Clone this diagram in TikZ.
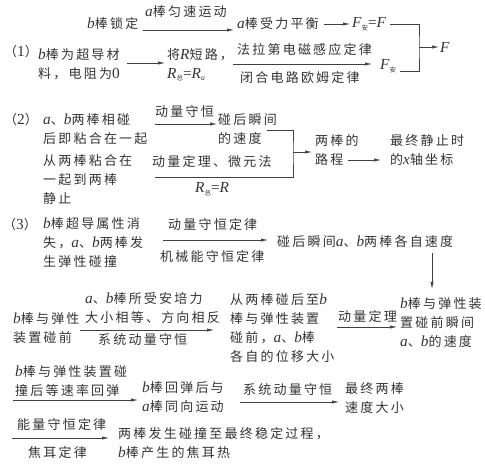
\documentclass[tikz,border=0pt]{standalone}
\usepackage{fontspec}
\newfontfamily\cjk[LetterSpace=17]{Noto Sans CJK SC}
\newfontfamily\cjksub{Noto Sans CJK SC}
\newfontfamily\ser[Scale=1.18]{Liberation Serif}
\usetikzlibrary{arrows.meta}
\newcommand\vi[1]{{\ser\itshape #1}}
\newcommand\dg[1]{{\ser #1}}
\newcommand\zh[1]{\raisebox{-2.5pt}{\cjksub\fontsize{6.5}{7}\selectfont #1}}
\tikzset{
  txt/.style={inner sep=0pt, anchor=west, align=left, font=\cjk\fontsize{13}{19}\selectfont, text=black!80},
  arr/.style={draw=black!75, line width=0.6pt, -{Latex[length=7pt,width=3.2pt]}},
  ln/.style={draw=black!75, line width=0.6pt},
}
\begin{document}
\begin{tikzpicture}[x=1pt,y=-1pt]
\useasboundingbox (0,0) rectangle (485,465);
% ---------- (1)
\node[txt] (b1) at (87,24) {\vi{b}棒锁定};
\node[txt] (l1) at (145,12) {\vi{a}棒匀速运动};
\node[txt] (a1) at (237,24) {\vi{a}棒受力平衡};
\node[txt] (f1) at (352,24) {\vi{F}\zh{安}\dg{=}\vi{F}};
\node[txt] (p1) at (4,52) {（\dg{1}）};
\node[txt] (s1) at (38,64) {\vi{b}棒为超导材\\料，电阻为\dg{0}};
\node[txt] (r1) at (167,65) {将\vi{R}短路，\\\vi{R}\zh{总}\dg{=}\vi{R}\zh{\ser\itshape a}};
\node[txt] (fl) at (237,50) {法拉第电磁感应定律};
\node[txt] (bh) at (240,78) {闭合电路欧姆定律};
\node[txt] (fa) at (380,66) {\vi{F}\zh{安}};
\node[txt] (F) at (440,47) {\vi{F}};
\coordinate (c1a) at (143,30); \coordinate (c1b) at (234,30);
\draw[arr] (c1a) -- (c1b);
\draw[arr] ([xshift=5pt]a1.east) -- ([xshift=-2pt]f1.west);
\coordinate (c2a) at (127,63); \coordinate (c2b) at (165,63);
\draw[arr] (c2a) -- (c2b);
\coordinate (c3a) at (233,64); \coordinate (c3b) at (372,64);
\draw[arr] (c3a) -- (c3b);
\coordinate (k1) at (419,47);
\draw[ln] ([xshift=4pt]f1.east) -| (k1) |- ([xshift=4pt,yshift=-5pt]fa.east);
\draw[arr] (k1) -- ([xshift=-1pt]F.west);
% ---------- (2)
\node[txt] (p2) at (4,120) {（\dg{2}）};
\node[txt] (s2) at (43,129) {\vi{a}、\vi{b}两棒相碰\\后即粘合在一起};
\node[txt] (l2) at (155,112) {动量守恒};
\node[txt] (v2) at (218,129) {碰后瞬间\\的速度};
\node[txt] (t2) at (43,180) {从两棒粘合在\\一起到两棒\\静止};
\node[txt] (m2) at (152,162) {动量定理、微元法};
\node[txt] (r2) at (195,189) {\vi{R}\zh{总}\dg{=}\vi{R}};
\node[txt] (d2) at (315,150) {两棒的\\路程};
\node[txt] (x2) at (390,150) {最终静止时\\的\vi{x}轴坐标};
\coordinate (c4a) at (155,124); \coordinate (c4b) at (217,124);
\draw[arr] (c4a) -- (c4b);
\coordinate (k2) at (293,152);
\coordinate (c5a) at (267,130); \coordinate (c5b) at (155,177);
\draw[ln] (c5a) -| (k2) |- (c5b);
\draw[arr] (k2) -- ([xshift=-3pt]k2 -| d2.west);
\coordinate (c6a) at (348,160); \coordinate (c6b) at (381,160);
\draw[arr] (c6a) -- (c6b);
% ---------- (3)
\node[txt] (p3) at (3,225) {（\dg{3}）};
\node[txt] (s3) at (43,243) {\vi{b}棒超导属性消\\失，\vi{a}、\vi{b}两棒发\\生弹性碰撞};
\node[txt] (l3a) at (168,225) {动量守恒定律};
\node[txt] (l3b) at (160,257) {机械能守恒定律};
\node[txt] (v3) at (277,242) {碰后瞬间\vi{a}、\vi{b}两棒各自速度};
\node[txt] (q3) at (400,323) {\vi{b}棒与弹性装\\置碰前瞬间\\\vi{a}、\vi{b}的速度};
\node[txt] (w3) at (230,328) {从两棒碰后至\vi{b}\\棒与弹性装置\\碰前，\vi{a}、\vi{b}棒\\各自的位移大小};
\node[txt] (l3c) at (338,317) {动量定理};
\node[txt] (e3) at (13,328) {\vi{b}棒与弹性\\装置碰前};
\node[txt] (l3d) at (85,308) {\vi{a}、\vi{b}棒所受安培力\\大小相等、方向相反};
\node[txt] (l3e) at (98,340) {系统动量守恒};
\coordinate (c7a) at (163,240); \coordinate (c7b) at (268,240);
\draw[arr] (c7a) -- (c7b);
\coordinate (c8a) at (432,253); \coordinate (c8b) at (432,289);
\draw[arr] (c8a) -- (c8b);
\coordinate (c9a) at (337,327); \coordinate (c9b) at (397,327);
\draw[arr] (c9a) -- (c9b);
\coordinate (c10a) at (80,330); \coordinate (c10b) at (214,330);
\draw[arr] (c10a) -- (c10b);
% ---------- last rows
\node[txt] (l3f) at (15,381) {\vi{b}棒与弹性装置碰\\撞后等速率回弹};
\node[txt] (h3) at (142,397) {\vi{b}棒回弹后与\\\vi{a}棒同向运动};
\node[txt] (l3g) at (243,390) {系统动量守恒};
\node[txt] (g3) at (345,398) {最终两棒\\速度大小};
\node[txt] (l3h) at (17,425) {能量守恒定律};
\node[txt] (l3i) at (28,453) {焦耳定律};
\node[txt] (j3) at (118,443) {两棒发生碰撞至最终稳定过程，\\\vi{b}棒产生的焦耳热};
\coordinate (c11a) at (13,400); \coordinate (c11b) at (138,400);
\draw[arr] (c11a) -- (c11b);
\coordinate (c12a) at (240,402); \coordinate (c12b) at (339,402);
\draw[arr] (c12a) -- (c12b);
\coordinate (c13a) at (12,438); \coordinate (c13b) at (109,438);
\draw[arr] (c13a) -- (c13b);
\end{tikzpicture}
\end{document}
